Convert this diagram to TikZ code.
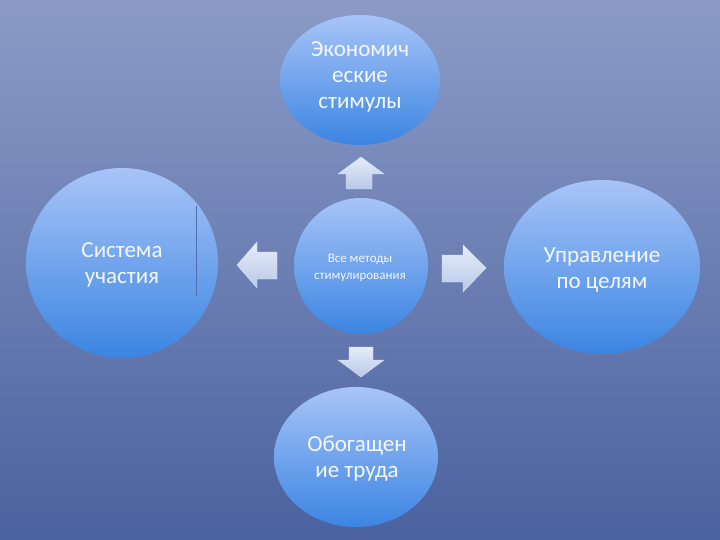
\documentclass[tikz,border=0pt]{standalone}
\usepackage{fontspec}
\setmainfont{Carlito}
\usetikzlibrary{shapes.geometric}
\definecolor{bgtop}{HTML}{8B9BC6}
\definecolor{bgbot}{HTML}{4B62A0}
\definecolor{ctop}{HTML}{A8C4F7}
\definecolor{cbot}{HTML}{3B85E2}
\definecolor{atop}{HTML}{E6EDFA}
\definecolor{abot}{HTML}{B9C8E8}
\definecolor{ctext}{HTML}{F4F7FF}
\tikzset{
  bubble/.style={ellipse, inner sep=0pt, top color=ctop, bottom color=cbot,
    text=ctext, align=center,
    font=\fontsize{23}{26}\selectfont},
  label/.style={text=ctext, align=center, font=\fontsize{23}{26}\selectfont},
  blockarrow/.style={top color=atop, bottom color=abot, draw=atop!70!abot, line width=0.4pt},
}
\begin{document}
\begin{tikzpicture}[x=1pt,y=-1pt]
\shade[top color=bgtop, bottom color=bgbot] (0,0) rectangle (720,540);
\useasboundingbox (0,0) rectangle (720,540);

\node[bubble, minimum width=160pt, minimum height=130pt] (econ) at (360,80) {};
\node[label] (econt) at (360,77) {Экономич\\еские\\стимулы};
\node[bubble, minimum width=134pt, minimum height=136pt] (all) at (361,266) {};
\node[label, font=\fontsize{13}{17}\selectfont] (allt) at (360,268) {Все методы\\стимулирования};
\node[bubble, minimum width=192pt, minimum height=190pt] (sys) at (122,263) {};
\node[label] (syst) at (122,265) {Система\\участия};
\node[bubble, minimum width=196pt, minimum height=174pt] (mbo) at (602,267) {};
\node[label] (mbot) at (602,270) {Управление\\по целям};
\node[bubble, minimum width=164pt, minimum height=140pt] (enr) at (356,457) {};
\node[label] (enrt) at (357,459) {Обогащен\\ие труда};

\draw[draw={rgb,255:red,80;green,110;blue,176}, line width=0.8pt] (196.5,206) -- (196.5,296);

% block arrows
\path[blockarrow] (361,157) -- (384,174) -- (372,174) -- (372,189) -- (346,189) -- (346,174) -- (338,174) -- cycle;
\path[blockarrow] (237,265) -- (257,242) -- (257,252) -- (277,252) -- (277,279) -- (257,279) -- (257,288) -- cycle;
\path[blockarrow] (486,268) -- (463,245) -- (463,255) -- (442,255) -- (442,282) -- (463,282) -- (463,292) -- cycle;
\path[blockarrow] (361,377) -- (384,360) -- (373,360) -- (373,347) -- (349,347) -- (349,360) -- (338,360) -- cycle;
\end{tikzpicture}
\end{document}
